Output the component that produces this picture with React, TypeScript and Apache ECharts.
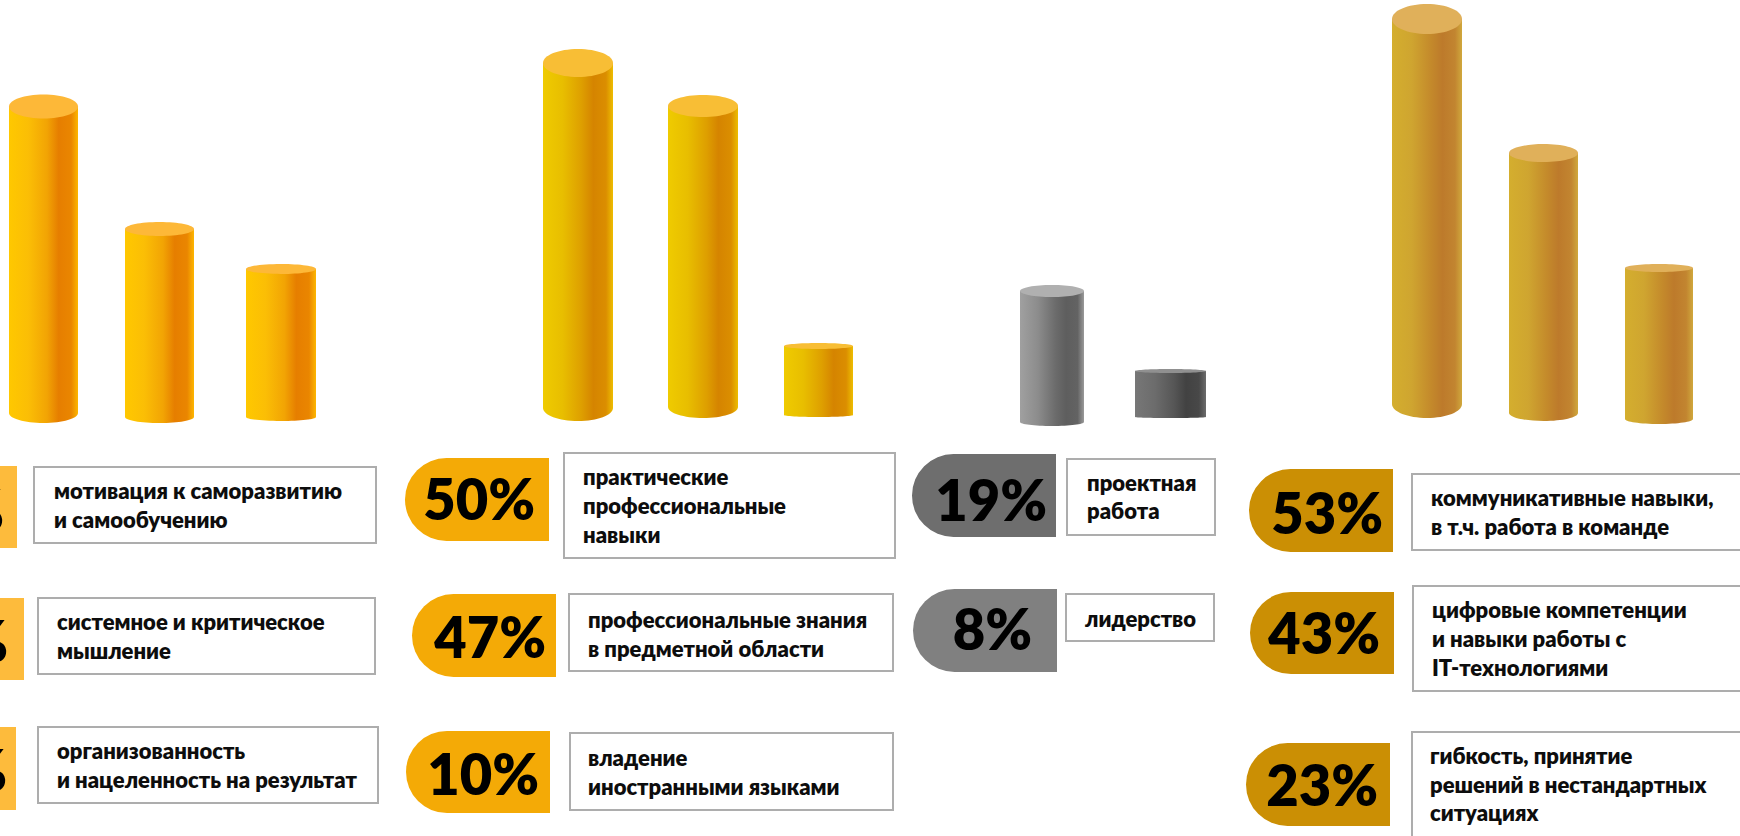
import React, { useEffect, useRef } from "react";
import * as echarts from "echarts";

// ---------- data ----------
const motivationValues = [47, 29, 22];
const knowledgeValues = [50, 47, 10];
const projectValues = [19, 8];
const softValues = [53, 43, 23];

const motivationLabels = [
  ["мотивация к саморазвитию", "и самообучению"],
  ["системное и критическое", "мышление"],
  ["организованность", "и нацеленность на результат"],
];
const knowledgeLabels = [
  ["практические", "профессиональные", "навыки"],
  ["профессиональные знания", "в предметной области"],
  ["владение", "иностранными языками"],
];
const projectLabels = [["проектная", "работа"], ["лидерство"]];
const softLabels = [
  ["коммуникативные навыки,", "в т.ч. работа в команде"],
  ["цифровые компетенции", "и навыки работы с", "IT-технологиями"],
  ["гибкость, принятие", "решений в нестандартных", "ситуациях"],
];

const allValues = [...motivationValues, ...knowledgeValues, ...projectValues, ...softValues];
const allLabels = [...motivationLabels, ...knowledgeLabels, ...projectLabels, ...softLabels];

// ---------- layout ----------
// left, right, base of each cylinder; its pictorial scale (px per percent); cap and base ellipse half-heights
const barLayout = [
  [9, 78, 423, 6.99, 12, 10],
  [125, 194, 423, 6.93, 7, 6],
  [246, 316, 421, 7.14, 5, 4],
  [543, 613, 421, 7.44, 14, 13],
  [668, 738, 418, 6.87, 11, 11],
  [784, 853, 417, 7.4, 3, 2],
  [1020, 1084, 426, 7.42, 6, 4],
  [1135, 1206, 418, 6.125, 2, 1],
  [1392, 1462, 418, 7.81, 15, 14],
  [1509, 1578, 421, 6.44, 9, 8],
  [1625, 1693, 424, 6.96, 4, 5],
];
const stops = (c: string[]) => [0, 0.28, 0.55, 0.72, 0.9, 1].map((offset, i) => ({ offset, color: c[i] }));
const G1 = stops(["#FFC800", "#FBBE05", "#F2A404", "#E67E00", "#EA8600", "#FDB600"]);
const G2 = stops(["#EFCB00", "#E8BE00", "#DE9F00", "#D58400", "#DB8E00", "#EDBD00"]);
const G3a = stops(["#A0A0A0", "#8C8C8C", "#6C6C6C", "#5E5E5E", "#636363", "#9A9A9A"]);
const G3b = stops(["#777777", "#6C6C6C", "#565656", "#424242", "#484848", "#6C6C6C"]);
const G4 = stops(["#D4AE2E", "#CFA530", "#C48A2B", "#BD7A2B", "#C28530", "#D0A83C"]);
const barFills = [G1, G1, G1, G2, G2, G2, G3a, G3b, G4, G4, G4];
const capFills = ["#FDB838", "#FDB838", "#FDB838", "#F8BE35", "#F8BE35", "#F8BE35", "#B0B0B0", "#909090", "#E0B05A", "#E0B05A", "#E0B05A"];

// pill: right, top, bottom, colour; right edge of the percent text, digit baseline
const pillLayout = [
  [17, 466, 548, "#FDBB3C", 4, 528],
  [24, 598, 680, "#FDBB3C", 8, 659],
  [16, 727, 810, "#FDBB3C", 7, 788],
  [549, 458, 541, "#F4AA06", 535, 517],
  [556, 594, 677, "#F4AA06", 546, 655],
  [550, 731, 813, "#F4AA06", 539, 792],
  [1056, 454, 537, "#6E6E6E", 1047, 518],
  [1057, 589, 672, "#808080", 1032, 647],
  [1393, 469, 552, "#CB8F04", 1383, 531],
  [1394, 592, 674, "#CB8F04", 1380, 651],
  [1390, 743, 826, "#CB8F04", 1378, 803],
];
// box: left, top, right, bottom; text left, first baseline, line step
const boxLayout = [
  [33, 466, 377, 544, 54, 498, 29],
  [37, 597, 376, 675, 57, 629, 29],
  [37, 726, 379, 804, 57, 758, 29],
  [563, 452, 896, 559, 583, 484, 29],
  [568, 593, 894, 672, 588, 627, 28.5],
  [569, 732, 894, 811, 588, 765, 29],
  [1066, 458, 1216, 536, 1087, 490, 28],
  [1065, 593, 1215, 642, 1085, 626, 29],
  [1411, 473, 1760, 551, 1431, 505, 29],
  [1412, 585, 1760, 692, 1432, 617, 29],
  [1411, 731, 1760, 870, 1430, 763, 28.5],
];

const FONT = "Lato, 'Open Sans', sans-serif";
const LABEL_SIZE = 22;
const PCT_SIZE = 56;
const H = 416;

function cylinder(i: number) {
  return (_params: any, api: any) => {
    const capRy = barLayout[i][4];
    const baseRy = barLayout[i][5];
    const top = api.coord([0, api.value(1)]);
    const bot = api.coord([0, 0]);
    const width = api.size([1, 0])[0];
    const cx = top[0];
    const rx = width / 2;
    const fill = new echarts.graphic.LinearGradient(0, 0, 1, 0, barFills[i]);
    const rimTop = top[1] + capRy;
    const rimBot = bot[1] - baseRy;
    return {
      type: "group",
      children: [
        { type: "ellipse", shape: { cx, cy: rimBot, rx, ry: baseRy }, style: { fill } },
        { type: "rect", shape: { x: cx - rx, y: rimTop, width, height: rimBot - rimTop }, style: { fill } },
        { type: "ellipse", shape: { cx, cy: rimTop, rx, ry: capRy }, style: { fill: capFills[i] } },
      ],
    };
  };
}

function buildOption() {
  const grid = barLayout.map((b) => ({ left: b[0], width: b[1] - b[0], top: b[2] - H, height: H, outerBoundsMode: "none" }));
  const xAxis = barLayout.map((_, i) => ({ type: "category", gridIndex: i, data: [allLabels[i].join(" ")], show: false }));
  const yAxis = barLayout.map((b, i) => ({ type: "value", gridIndex: i, min: 0, max: H / b[3], show: false }));
  const series = allValues.map((v, i) => ({
    type: "custom",
    name: allLabels[i].join(" "),
    xAxisIndex: i,
    yAxisIndex: i,
    coordinateSystem: "cartesian2d",
    clip: false,
    silent: true,
    renderItem: cylinder(i),
    encode: { x: 0, y: 1 },
    data: [[0, v]],
  }));
  const graphic: any[] = [];
  pillLayout.forEach((p, i) => {
    const [right, top, bottom, color, textRight, baseline] = p as [number, number, number, string, number, number];
    const w = 144;
    const h = bottom - top;
    graphic.push({
      type: "rect", silent: true,
      shape: { x: right - w, y: top, width: w, height: h, r: [h / 2, 0, 0, h / 2] },
      style: { fill: color },
    });
    graphic.push({
      type: "text", silent: true, x: textRight, y: baseline - PCT_SIZE * 0.33,
      style: { text: `${allValues[i]}%`, fontFamily: FONT, fontWeight: 800, fontSize: PCT_SIZE, fill: "#000", textAlign: "right", textVerticalAlign: "middle" },
    });
  });
  boxLayout.forEach((b, i) => {
    const [l, t, r, bt, tl, first, step] = b;
    graphic.push({
      type: "rect", silent: true,
      shape: { x: l + 1, y: t + 1, width: r - l - 2, height: bt - t - 2 },
      style: { fill: "#fff", stroke: "#ADADAD", lineWidth: 2 },
    });
    allLabels[i].forEach((line, k) => {
      graphic.push({
        type: "text", silent: true, x: tl, y: first + k * step - LABEL_SIZE * 0.33,
        style: { text: line, fontFamily: FONT, fontWeight: 800, fontSize: LABEL_SIZE, fill: "#0d0d0d", textAlign: "left", textVerticalAlign: "middle" },
      });
    });
  });
  return { animation: false, backgroundColor: "#fff", grid, xAxis, yAxis, series, graphic };
}

export default function App() {
  const ref = useRef<HTMLDivElement>(null);
  useEffect(() => {
    document.body.style.margin = "0";
    document.body.style.overflow = "hidden";
    const chart = echarts.init(ref.current!, null, { renderer: "svg" });
    chart.setOption(buildOption() as any);
    return () => chart.dispose();
  }, []);
  return <div ref={ref} style={{ width: 1740, height: 836 }} />;
}
